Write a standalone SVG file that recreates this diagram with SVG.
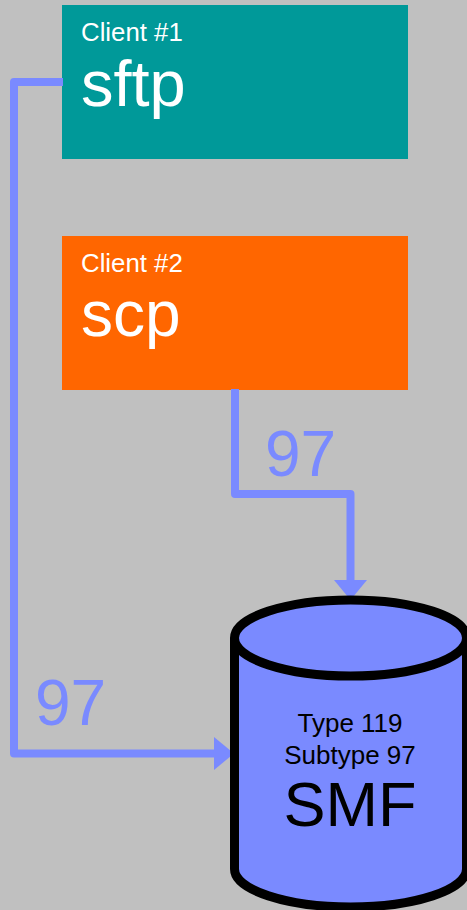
<svg xmlns="http://www.w3.org/2000/svg" width="467" height="910" viewBox="0 0 467 910">
<style>
text{font-family:"Liberation Sans",Arial,sans-serif}
.w{fill:#fff}
.c{stroke:#7a8aff;stroke-width:8;fill:none;stroke-linejoin:round}
.h{fill:#7a8aff}
.n{fill:#7a8aff;font-size:64px}
.s{font-size:26px;text-anchor:middle}
</style>
<rect width="467" height="910" fill="#c0c0c0"/>
<g id="client1"><rect x="62" y="5" width="346" height="154" fill="#009999"/>
<text class="w" x="81" y="41" font-size="25.8">Client #1</text><text class="w" x="81" y="106" font-size="65">sftp</text></g>
<g id="client2"><rect x="62" y="236" width="346" height="154" fill="#ff6600"/>
<text class="w" x="81" y="272" font-size="25.8">Client #2</text><text class="w" x="81" y="336" font-size="64">scp</text></g>
<g id="connectors">
<path class="c" d="M63 82H14V753.500H216"/><polygon class="h" points="214,737 234,753.500 214,770"/>
<path class="c" d="M235 389V494H350.500V582"/><polygon class="h" points="334,580 350.500,600 367,580"/>
</g>
<text class="n" x="265" y="476">97</text>
<text class="n" x="35" y="725">97</text>
<g id="smf">
<path d="M234.500 638V869A116 38 0 0 0 466.500 869V638" fill="#7a8aff" stroke="#000" stroke-width="9"/>
<ellipse cx="350.500" cy="638" rx="116" ry="38" fill="#7a8aff" stroke="#000" stroke-width="9"/>
<text class="s" x="350" y="732">Type 119</text>
<text class="s" x="350" y="764">Subtype 97</text>
<text x="350" y="826" font-size="63" text-anchor="middle">SMF</text>
</g>
</svg>
